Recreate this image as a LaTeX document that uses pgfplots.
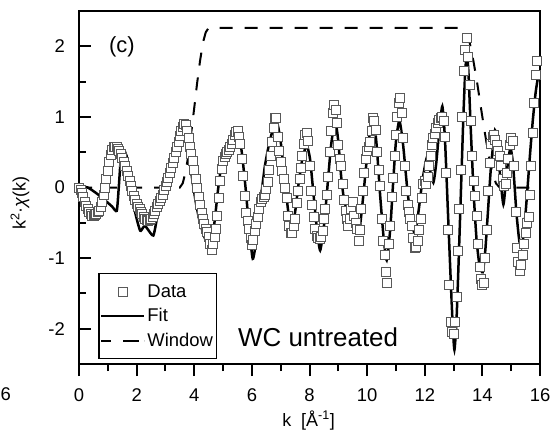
\documentclass[border=0pt]{standalone}
\usepackage{fontspec}
\setmainfont{Liberation Sans}
\usepackage{pgfplots}
\usepackage{pgfplotstable}
\pgfplotsset{compat=1.18}

\pgfplotsset{
  datalegend/.style={legend image code/.code={\draw[##1] plot coordinates {(21bp,0bp)};}},
  fitlegend/.style={legend image code/.code={\draw[##1, line width=2bp] (0bp,0bp) -- (43bp,0bp);}},
  winlegend/.style={legend image code/.code={\draw[##1, dash pattern=on 10bp off 12bp on 16bp off 5bp] (0bp,0bp) -- (43bp,0bp);}},
}

\pgfplotstableread{
k y
0.00 0.00
0.05 -0.03
0.10 -0.08
0.15 -0.14
0.20 -0.20
0.25 -0.26
0.30 -0.31
0.35 -0.35
0.40 -0.38
0.45 -0.40
0.50 -0.40
0.55 -0.39
0.60 -0.37
0.65 -0.35
0.70 -0.33
0.75 -0.28
0.80 -0.20
0.85 -0.10
0.90 0.00
0.95 0.12
1.00 0.24
1.05 0.36
1.10 0.46
1.15 0.53
1.20 0.57
1.25 0.58
1.30 0.57
1.35 0.55
1.40 0.52
1.45 0.47
1.50 0.42
1.55 0.36
1.60 0.30
1.65 0.23
1.70 0.16
1.75 0.09
1.80 0.02
1.85 -0.05
1.90 -0.12
1.95 -0.18
2.00 -0.23
2.05 -0.27
2.10 -0.31
2.15 -0.34
2.20 -0.38
2.25 -0.41
2.30 -0.44
2.35 -0.46
2.40 -0.47
2.45 -0.46
2.50 -0.44
2.55 -0.42
2.60 -0.38
2.65 -0.33
2.70 -0.28
2.75 -0.23
2.80 -0.19
2.85 -0.15
2.90 -0.10
2.95 -0.04
3.00 0.02
3.05 0.08
3.10 0.14
3.15 0.21
3.20 0.28
3.25 0.35
3.30 0.42
3.35 0.50
3.40 0.58
3.45 0.65
3.50 0.73
3.55 0.80
3.60 0.86
3.65 0.90
3.70 0.88
3.75 0.80
3.80 0.70
3.85 0.58
3.90 0.47
3.95 0.37
4.00 0.25
4.05 0.12
4.10 -0.01
4.15 -0.13
4.20 -0.25
4.25 -0.36
4.30 -0.45
4.35 -0.52
4.40 -0.58
4.45 -0.63
4.50 -0.70
4.55 -0.80
4.60 -0.88
4.65 -0.80
4.70 -0.70
4.75 -0.58
4.80 -0.40
4.85 -0.15
4.90 0.10
4.95 0.27
5.00 0.38
5.05 0.44
5.10 0.48
5.15 0.51
5.20 0.53
5.25 0.57
5.30 0.62
5.35 0.68
5.40 0.74
5.45 0.79
5.50 0.80
5.55 0.72
5.60 0.62
5.65 0.40
5.70 0.16
5.75 -0.12
5.80 -0.36
5.85 -0.48
5.90 -0.58
5.95 -0.72
6.00 -0.82
6.05 -0.74
6.10 -0.62
6.15 -0.52
6.20 -0.42
6.25 -0.30
6.30 -0.20
6.35 -0.16
6.40 -0.13
6.45 -0.10
6.50 -0.02
6.55 0.08
6.60 0.25
6.65 0.45
6.70 0.65
6.75 0.85
6.80 0.98
6.85 0.98
6.90 0.72
6.95 0.52
7.00 0.36
7.05 0.24
7.10 0.12
7.15 0.00
7.20 -0.15
7.25 -0.40
7.30 -0.55
7.35 -0.64
7.40 -0.65
7.45 -0.55
7.50 -0.45
7.55 -0.22
7.60 -0.05
7.65 0.12
7.70 0.28
7.75 0.45
7.80 0.62
7.85 0.74
7.90 0.77
7.95 0.66
8.00 0.30
8.05 -0.05
8.10 -0.25
8.15 -0.42
8.20 -0.58
8.25 -0.68
8.30 -0.72
8.35 -0.73
8.40 -0.70
8.45 -0.62
8.50 -0.45
8.55 -0.30
8.60 -0.10
8.65 0.15
8.70 0.50
8.75 0.80
8.80 1.05
8.85 1.17
8.90 1.10
8.95 0.92
9.00 0.60
9.05 0.40
9.10 0.30
9.15 0.05
9.20 -0.18
9.25 -0.33
9.30 -0.45
9.35 -0.54
9.40 -0.45
9.45 -0.30
9.50 -0.20
9.55 -0.40
9.60 -0.50
9.65 -0.58
9.70 -0.75
9.75 -0.60
9.80 -0.30
9.85 -0.05
9.90 0.20
9.95 0.40
10.00 0.52
10.05 0.58
10.10 0.65
10.15 0.80
10.20 0.98
10.25 0.95
10.30 0.82
10.35 0.50
10.40 0.25
10.45 0.02
10.50 -0.45
10.55 -0.75
10.60 -0.95
10.65 -1.20
10.70 -1.35
10.75 -0.80
10.80 -0.54
10.85 -0.14
10.90 0.14
10.95 0.45
11.00 0.75
11.05 1.00
11.10 1.20
11.15 1.27
11.20 1.05
11.25 0.70
11.30 0.30
11.35 -0.05
11.40 -0.25
11.45 -0.35
11.50 -0.45
11.55 -0.55
11.60 -0.72
11.65 -0.85
11.70 -0.84
11.75 -0.75
11.80 -0.60
11.85 -0.45
11.90 -0.15
11.95 0.05
12.00 0.10
12.05 0.05
12.10 0.15
12.15 0.30
12.20 0.45
12.25 0.60
12.30 0.70
12.35 0.76
12.40 0.85
12.45 0.92
12.50 0.96
12.55 0.98
12.60 1.00
12.65 0.95
12.70 0.72
12.75 0.20
12.80 -0.60
12.85 -1.38
12.90 -1.90
12.95 -2.05
13.00 -2.08
13.05 -1.90
13.10 -1.55
13.15 -0.90
13.20 -0.30
13.25 0.25
13.30 1.00
13.35 1.65
13.40 1.95
13.45 2.12
13.50 1.85
13.55 1.45
13.60 0.95
13.65 0.45
13.70 0.10
13.75 -0.12
13.80 -0.40
13.85 -0.80
13.90 -1.12
13.95 -1.30
14.00 -1.38
14.05 -1.35
14.10 -1.00
14.15 -0.60
14.20 -0.05
14.25 0.35
14.30 0.62
14.35 0.72
14.40 0.75
14.45 0.68
14.50 0.60
14.55 0.52
14.60 0.45
14.65 0.30
14.70 0.12
14.75 0.02
14.80 0.05
14.85 0.20
14.90 0.40
14.95 0.60
15.00 0.70
15.05 0.66
15.10 0.30
15.15 -0.35
15.20 -0.85
15.25 -1.05
15.30 -1.18
15.35 -1.10
15.40 -0.95
15.45 -0.80
15.50 -0.65
15.55 -0.50
15.60 -0.42
15.65 -0.10
15.70 0.30
15.75 0.78
15.80 1.20
15.85 1.60
15.90 1.80
}\datatable

\pgfplotstableread{
k y
0.00 0.02
0.30 0.00
0.60 -0.08
0.90 -0.18
1.15 -0.27
1.31 -0.33
1.38 0.00
1.45 0.40
1.54 0.53
1.65 0.45
1.80 0.10
1.95 -0.35
2.12 -0.61
2.22 -0.57
2.29 -0.54
2.40 -0.60
2.58 -0.68
2.70 -0.45
2.82 -0.18
2.93 0.02
3.05 0.10
3.16 0.16
3.30 0.30
3.45 0.55
3.62 0.74
3.75 0.60
3.90 0.20
4.05 -0.20
4.20 -0.50
4.40 -0.75
4.57 -0.80
4.70 -0.50
4.82 -0.05
4.95 0.35
5.07 0.53
5.20 0.60
5.35 0.70
5.53 0.77
5.65 0.50
5.78 0.00
5.90 -0.55
6.03 -1.01
6.15 -0.75
6.30 -0.20
6.45 0.30
6.60 0.62
6.75 0.85
6.88 0.91
7.00 0.65
7.12 0.20
7.25 -0.30
7.38 -0.61
7.50 -0.35
7.62 0.05
7.75 0.40
7.90 0.60
8.02 0.40
8.14 -0.10
8.26 -0.60
8.37 -0.89
8.50 -0.55
8.62 0.00
8.75 0.60
8.89 0.95
9.00 0.65
9.10 0.15
9.20 -0.18
9.29 -0.29
9.38 -0.30
9.50 -0.38
9.62 -0.50
9.75 -0.54
9.87 -0.10
10.00 0.45
10.10 0.80
10.22 0.98
10.33 0.60
10.45 -0.10
10.57 -0.70
10.68 -1.03
10.80 -0.60
10.90 0.05
11.00 0.65
11.12 0.95
11.25 0.60
11.40 -0.05
11.53 -0.45
11.66 -0.66
11.78 -0.35
11.92 0.10
12.07 0.42
12.18 0.25
12.30 0.07
12.40 0.35
12.50 0.80
12.61 1.15
12.70 0.70
12.80 -0.30
12.90 -1.30
12.97 -1.95
13.03 -2.30
13.10 -1.90
13.18 -1.00
13.26 0.00
13.34 1.00
13.40 1.60
13.46 1.91
13.52 1.60
13.60 0.80
13.70 -0.10
13.80 -0.75
13.90 -1.10
14.01 -1.20
14.10 -0.90
14.20 -0.30
14.30 0.30
14.44 0.81
14.52 0.60
14.62 0.15
14.73 -0.24
14.82 0.10
14.90 0.40
14.98 0.56
15.07 0.30
15.18 -0.35
15.28 -0.75
15.36 -0.85
15.45 -0.60
15.55 -0.10
15.65 0.45
15.75 0.95
15.85 1.35
15.94 1.58
16.00 1.60
}\fittable

\pgfplotstableread{
k y
0.00 0.00
3.50 0.00
3.60 0.06
3.70 0.22
3.80 0.47
3.90 0.79
4.00 1.13
4.10 1.48
4.20 1.79
4.30 2.05
4.40 2.20
4.50 2.26
13.30 2.26
13.43 2.20
13.56 2.05
13.69 1.79
13.82 1.48
13.95 1.13
14.08 0.79
14.21 0.47
14.34 0.22
14.47 0.06
14.60 0.00
16.00 0.00
}\wintable

\begin{document}
\begin{tikzpicture}
\useasboundingbox (-79bp,-67bp) rectangle (471bp,364bp);
\begin{axis}[
  at={(0,0)}, anchor=south west,
  scale only axis, width=461bp, height=353bp,
  xmin=0, xmax=16, ymin=-2.5, ymax=2.5,
  xtick={0,2,...,16}, minor xtick={1,3,...,15},
  ytick={-2,-1,0,1,2}, minor ytick={-1.5,-0.5,0.5,1.5},
  tick pos=left,
  xtick align=outside, ytick align=inside,
  axis line style={line width=2bp},
  every tick/.style={black, line width=2bp},
  major tick length=12bp, minor tick length=7bp,
  /pgf/number format/assume math mode=true,
  tick label style={font=\fontsize{18.5}{20}\selectfont},
  yticklabel style={anchor=east, inner sep=0pt, xshift=-14bp},
  xticklabel style={anchor=base, inner sep=0pt, yshift=-25bp},
  xlabel={k\ \ [Å\textsuperscript{-1}]},
  ylabel={k\textsuperscript{2}·{\itshape χ}(k)},
  label style={font=\fontsize{18}{20}\selectfont},
  xlabel style={at={(axis description cs:0.498,-0.159)}, anchor=center},
  ylabel style={at={(axis description cs:-0.128,0.456)}, anchor=center},
  legend style={at={(axis description cs:0.042,0.257)}, anchor=north west,
    draw=black, line width=1.2bp, fill=white, inner xsep=1.5bp, inner ysep=9bp,
    font=\fontsize{18.5}{21}\selectfont, row sep=7bp,
    nodes={inner xsep=2bp, inner ysep=1.5bp}},
  legend cell align=left,
]
\addplot[only marks, mark=square*, mark size=4.5bp,
  mark options={fill=white, draw=black!65, line width=0.8bp}, datalegend]
  table[x=k, y=y] {\datatable};
\addlegendentry{Data}
\addplot[black, line width=2.5bp, smooth, tension=0.35, fitlegend]
  table[x=k, y=y] {\fittable};
\addlegendentry{Fit}
\addplot[black, line width=2bp, dash pattern=on 13bp off 12bp, winlegend]
  table[x=k, y=y] {\wintable};
\addlegendentry{Window\hspace{15bp}}
\node[font=\fontsize{22}{24}\selectfont] at (axis cs:1.49,1.99) {(c)};
\node[anchor=base west, inner sep=0pt, font=\fontsize{26}{28}\selectfont] at (axis cs:5.52,-2.255) {WC untreated};
\end{axis}
\node[anchor=base east, inner sep=0pt, font=\fontsize{18.5}{20}\selectfont] at (-68bp,-36.7bp) {6};
\end{tikzpicture}
\end{document}
